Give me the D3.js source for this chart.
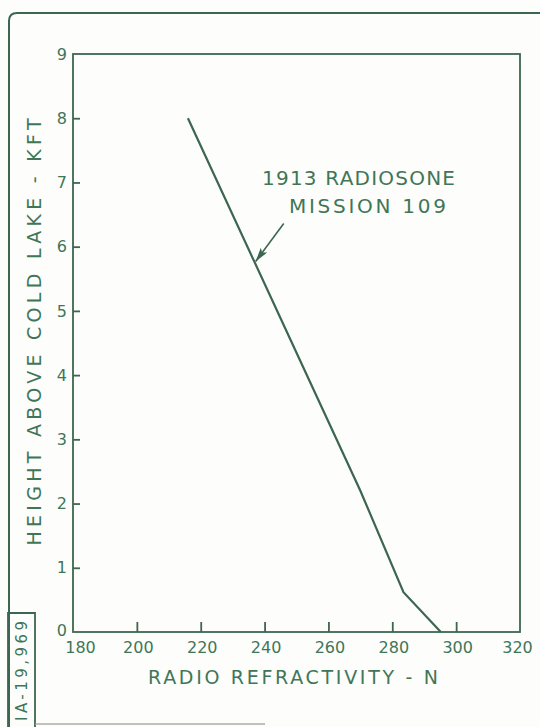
<!DOCTYPE html>
<html>
<head>
<meta charset="utf-8">
<script src="https://cdn.jsdelivr.net/npm/d3@7"></script>
<style>
  body { margin: 0; background: #fdfdfb; }
  svg { display: block; }
  text { font-family: "DejaVu Sans", sans-serif; fill: #3f7658; }
</style>
</head>
<body>
<svg width="540" height="727"></svg>
<script>
// data
var refractivity = [216, 270, 283.5, 295.2];
var height = [8, 2.2, 0.62, 0];
var xTicks = [180, 200, 220, 240, 260, 280, 300, 320];
var yTicks = [0, 1, 2, 3, 4, 5, 6, 7, 8, 9];
var noteLines = ["1913 RADIOSONE", "MISSION 109"];
var arrowFrom = [246, 6.36], arrowTo = [237.2, 5.77];

var ink = "#3d6650";
var svg = d3.select("svg");

var x = d3.scaleLinear().domain([180, 320]).range([73, 520]);
var y = d3.scaleLinear().domain([0, 9]).range([632, 54]);

// outer drawing frame with rounded corner
svg.append("path")
  .attr("d", "M9,727 L9,21 Q9,13 17,13 L540,13")
  .attr("fill", "none").attr("stroke", ink).attr("stroke-width", 2);

// drawing number box
svg.append("path")
  .attr("d", "M8,727 L8,613 L35,613 L35,727")
  .attr("fill", "none").attr("stroke", ink).attr("stroke-width", 1.8);
svg.append("text")
  .attr("transform", "translate(27,671) rotate(-90)")
  .attr("text-anchor", "middle")
  .attr("font-size", 15)
  .attr("textLength", 100).attr("lengthAdjust", "spacing")
  .text("IA-19,969");
svg.append("line")
  .attr("x1", 35).attr("x2", 265).attr("y1", 724).attr("y2", 724)
  .attr("stroke", "#9a9a9a").attr("stroke-width", 2).attr("opacity", 0.6);

// plot frame
svg.append("rect")
  .attr("x", x(180)).attr("y", y(9))
  .attr("width", x(320) - x(180)).attr("height", y(0) - y(9))
  .attr("fill", "none").attr("stroke", ink).attr("stroke-width", 1.8);

// x axis, ticks pointing in
var xAxis = svg.append("g")
  .attr("transform", "translate(0," + y(0) + ")")
  .call(d3.axisBottom(x).tickValues(xTicks).tickSize(-10).tickPadding(10));
xAxis.select(".domain").remove();
xAxis.selectAll("line").attr("stroke", ink).attr("stroke-width", 1.8)
  .filter(function (d) { return d == 180 || d == 320; }).remove();
xAxis.selectAll("text")
  .attr("font-size", 16).attr("font-family", "DejaVu Sans").attr("fill", "#3f7658")
  .attr("dx", function (d) { return d == 180 ? 7 : d == 320 ? -3 : 1; });

// y axis
var yAxis = svg.append("g")
  .attr("transform", "translate(" + x(180) + ",0)")
  .call(d3.axisLeft(y).tickValues(yTicks).tickSize(-7).tickPadding(6));
yAxis.select(".domain").remove();
yAxis.selectAll("line").attr("stroke", ink).attr("stroke-width", 1.8)
  .filter(function (d) { return d == 0 || d == 9; }).remove();
yAxis.selectAll("text")
  .attr("font-size", 16).attr("font-family", "DejaVu Sans").attr("fill", "#3f7658")
  .attr("dy", function (d) { return d == 0 ? "0.2em" : "0.32em"; });

// axis titles
svg.append("text")
  .attr("x", 293).attr("y", 684)
  .attr("text-anchor", "middle").attr("font-size", 19)
  .attr("textLength", 290).attr("lengthAdjust", "spacing")
  .text("RADIO REFRACTIVITY - N");
svg.append("text")
  .attr("transform", "translate(41,332) rotate(-90)")
  .attr("text-anchor", "middle").attr("font-size", 19)
  .attr("textLength", 427).attr("lengthAdjust", "spacing")
  .text("HEIGHT ABOVE COLD LAKE - KFT");

// profile
var line = d3.line()
  .x(function (d, i) { return x(refractivity[i]); })
  .y(function (d, i) { return y(height[i]); });
svg.append("path")
  .datum(refractivity)
  .attr("d", line)
  .attr("fill", "none").attr("stroke", ink).attr("stroke-width", 2.2);

// annotation
svg.append("defs").append("marker")
  .attr("id", "head").attr("viewBox", "0 0 14 8")
  .attr("refX", 14).attr("refY", 4)
  .attr("markerWidth", 14).attr("markerHeight", 8)
  .attr("markerUnits", "userSpaceOnUse").attr("orient", "auto")
  .append("path").attr("d", "M0,0 L14,4 L0,8 L3,4 Z").attr("fill", ink);
svg.append("line")
  .attr("x1", x(arrowFrom[0])).attr("y1", y(arrowFrom[1]))
  .attr("x2", x(arrowTo[0])).attr("y2", y(arrowTo[1]))
  .attr("stroke", ink).attr("stroke-width", 1.6)
  .attr("marker-end", "url(#head)");

var noteX = [358.5, 367.5], noteY = [185, 213], noteW = [193, 157];
svg.selectAll(".note")
  .data(noteLines)
  .enter().append("text")
  .attr("class", "note")
  .attr("x", function (d, i) { return noteX[i]; })
  .attr("y", function (d, i) { return noteY[i]; })
  .attr("text-anchor", "middle").attr("font-size", 20)
  .attr("textLength", function (d, i) { return noteW[i]; })
  .attr("lengthAdjust", "spacing")
  .text(function (d) { return d; });
</script>
</body>
</html>
